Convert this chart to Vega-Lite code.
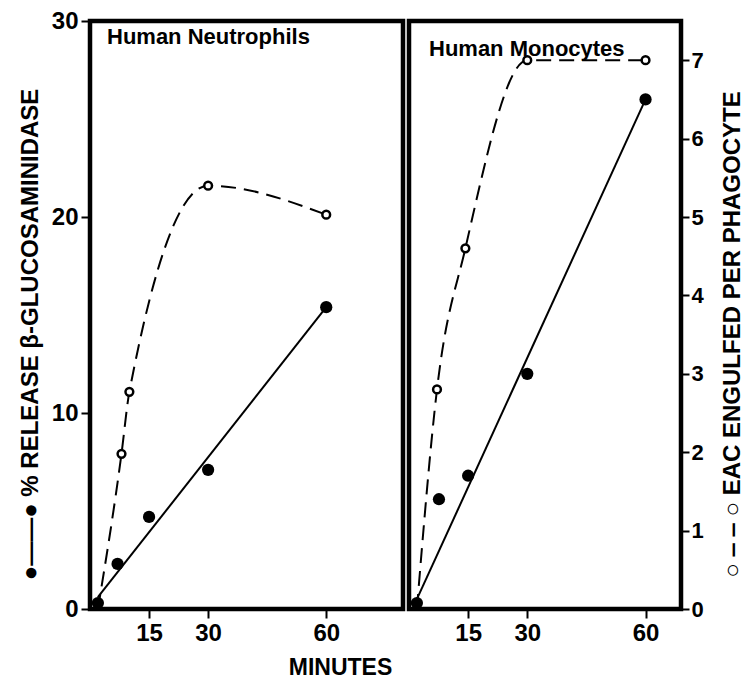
{
  "$schema": "https://vega.github.io/schema/vega-lite/v6.json",
  "background": "white",
  "padding": {"left": 16, "top": 6, "right": 4, "bottom": 4},
  "spacing": 0,
  "config": {
    "view": {"stroke": "black", "strokeWidth": 4.5},
    "font": "Liberation Sans",
    "axis": {
      "domain": false, "grid": false,
      "tickColor": "black", "tickWidth": 2,
      "labelColor": "black", "labelFont": "Liberation Sans", "labelFontWeight": "bold",
      "titleFont": "Liberation Sans", "titleFontWeight": "bold", "titleColor": "black"
    },
    "title": {"font": "Liberation Sans", "fontWeight": "bold", "color": "black"}
  },
  "datasets": {
    "d": [
      {"panel": "N", "series": "release", "t": 2, "value": 0.3},
      {"panel": "N", "series": "release", "t": 7, "value": 2.3},
      {"panel": "N", "series": "release", "t": 15, "value": 4.7},
      {"panel": "N", "series": "release", "t": 30, "value": 7.1},
      {"panel": "N", "series": "release", "t": 60, "value": 15.4},
      {"panel": "N", "series": "fit", "t": 2, "value": 0.6},
      {"panel": "N", "series": "fit", "t": 60, "value": 15.4},
      {"panel": "N", "series": "eac", "t": 2, "value": 0},
      {"panel": "N", "series": "eac", "t": 8, "value": 1.98},
      {"panel": "N", "series": "eac", "t": 10, "value": 2.77},
      {"panel": "N", "series": "eac", "t": 30, "value": 5.4},
      {"panel": "N", "series": "eac", "t": 60, "value": 5.03},
      {"panel": "M", "series": "release", "t": 2, "value": 0.3},
      {"panel": "M", "series": "release", "t": 7.6, "value": 5.6},
      {"panel": "M", "series": "release", "t": 15, "value": 6.8},
      {"panel": "M", "series": "release", "t": 30, "value": 12.0},
      {"panel": "M", "series": "release", "t": 60, "value": 26.0},
      {"panel": "M", "series": "fit", "t": 2, "value": 0.5},
      {"panel": "M", "series": "fit", "t": 60, "value": 26.0},
      {"panel": "M", "series": "eac", "t": 2, "value": 0},
      {"panel": "M", "series": "eac", "t": 7.1, "value": 2.8},
      {"panel": "M", "series": "eac", "t": 14.3, "value": 4.6},
      {"panel": "M", "series": "eac", "t": 30, "value": 7.0},
      {"panel": "M", "series": "eac", "t": 60, "value": 7.0}
    ]
  },
  "hconcat": [
    {
      "width": 313,
      "height": 588,
      "title": {"text": "Human Neutrophils", "anchor": "start", "frame": "group", "offset": -40, "dx": 17, "fontSize": 22},
      "data": {"name": "d"},
      "transform": [{"filter": "datum.panel == 'N'"}],
      "encoding": {
        "x": {
          "field": "t", "type": "quantitative",
          "scale": {"domain": [0, 79.5], "nice": false},
          "axis": {
            "values": [15, 30, 60], "tickSize": 9, "labelPadding": 3, "labelFontSize": 24,
            "title": "MINUTES", "titleFontSize": 23, "titleX": 250, "titleY": 58,
            "titleBaseline": "middle", "titleAlign": "center"
          }
        }
      },
      "layer": [
        {
          "transform": [{"filter": "datum.series == 'eac'"}],
          "mark": {"type": "line", "interpolate": "monotone", "strokeDash": [15, 8], "strokeWidth": 2, "color": "black"},
          "encoding": {"y": {"field": "value", "type": "quantitative", "scale": {"domain": [0, 7.5], "nice": false}, "axis": null}}
        },
        {
          "transform": [{"filter": "datum.series == 'eac' && datum.t > 3"}],
          "mark": {"type": "point", "shape": "circle", "fill": "white", "stroke": "black", "strokeWidth": 2.5, "size": 60, "opacity": 1},
          "encoding": {"y": {"field": "value", "type": "quantitative", "scale": {"domain": [0, 7.5], "nice": false}, "axis": null}}
        },
        {
          "transform": [{"filter": "datum.series == 'fit'"}],
          "mark": {"type": "line", "strokeWidth": 2, "color": "black"},
          "encoding": {"y": {"field": "value", "type": "quantitative", "scale": {"domain": [0, 30], "nice": false}, "axis": null}}
        },
        {
          "transform": [{"filter": "datum.series == 'release'"}],
          "mark": {"type": "point", "shape": "circle", "filled": true, "color": "black", "size": 150, "opacity": 1},
          "encoding": {"y": {
            "field": "value", "type": "quantitative", "scale": {"domain": [0, 30], "nice": false},
            "axis": {
              "orient": "left", "values": [0, 10, 20, 30], "tickSize": 9, "labelPadding": 3, "labelFontSize": 24,
              "title": "●——● % RELEASE β-GLUCOSAMINIDASE", "titleFontSize": 24, "titlePadding": 9, "titleY": 313
            }
          }}
        }
      ],
      "resolve": {"scale": {"y": "independent"}}
    },
    {
      "width": 272,
      "height": 588,
      "title": {"text": "Human Monocytes", "anchor": "start", "frame": "group", "offset": -40, "dx": 20, "fontSize": 22},
      "data": {"name": "d"},
      "transform": [{"filter": "datum.panel == 'M'"}],
      "encoding": {
        "x": {
          "field": "t", "type": "quantitative",
          "scale": {"domain": [0, 69], "nice": false},
          "axis": {"values": [15, 30, 60], "tickSize": 9, "labelPadding": 3, "labelFontSize": 24, "title": null}
        }
      },
      "layer": [
        {
          "transform": [{"filter": "datum.series == 'eac'"}],
          "mark": {"type": "line", "interpolate": "monotone", "strokeDash": [15, 8], "strokeWidth": 2, "color": "black"},
          "encoding": {"y": {
            "field": "value", "type": "quantitative", "scale": {"domain": [0, 7.5], "nice": false},
            "axis": {
              "orient": "right", "values": [0, 1, 2, 3, 4, 5, 6, 7], "tickSize": 8, "labelPadding": 2, "labelFontSize": 22,
              "title": "○ ‒ ‒ ○ EAC ENGULFED PER PHAGOCYTE", "titleFontSize": 24, "titleAngle": -90, "titleBaseline": "top", "titlePadding": 17, "titleY": 313
            }
          }}
        },
        {
          "transform": [{"filter": "datum.series == 'eac' && datum.t > 3"}],
          "mark": {"type": "point", "shape": "circle", "fill": "white", "stroke": "black", "strokeWidth": 2.5, "size": 60, "opacity": 1},
          "encoding": {"y": {"field": "value", "type": "quantitative", "scale": {"domain": [0, 7.5], "nice": false}, "axis": null}}
        },
        {
          "transform": [{"filter": "datum.series == 'fit'"}],
          "mark": {"type": "line", "strokeWidth": 2, "color": "black"},
          "encoding": {"y": {"field": "value", "type": "quantitative", "scale": {"domain": [0, 30], "nice": false}, "axis": null}}
        },
        {
          "transform": [{"filter": "datum.series == 'release'"}],
          "mark": {"type": "point", "shape": "circle", "filled": true, "color": "black", "size": 150, "opacity": 1},
          "encoding": {"y": {"field": "value", "type": "quantitative", "scale": {"domain": [0, 30], "nice": false}, "axis": null}}
        }
      ],
      "resolve": {"scale": {"y": "independent"}}
    }
  ]
}
